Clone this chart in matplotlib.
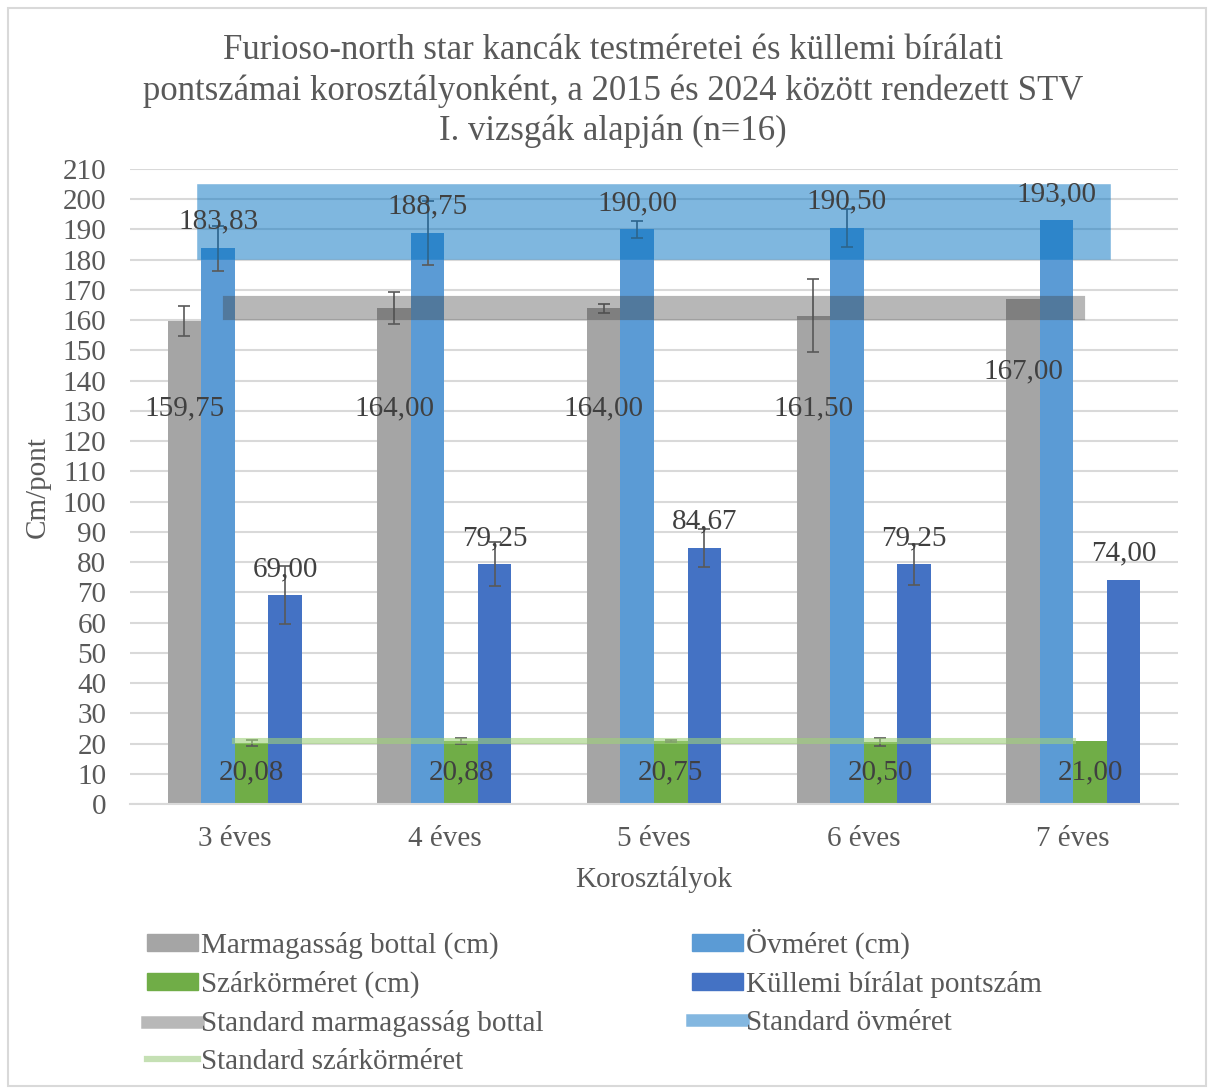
import numpy as np
import matplotlib
matplotlib.use("Agg")
import matplotlib.pyplot as plt
from matplotlib.patches import Patch, Rectangle
from matplotlib.lines import Line2D

plt.rcParams['font.family'] = ['Liberation Serif', 'DejaVu Serif']

# data
categories = ['3 éves', '4 éves', '5 éves', '6 éves', '7 éves']
marmagassag = [159.75, 164.00, 164.00, 161.50, 167.00]
ovmeret = [183.83, 188.75, 190.00, 190.50, 193.00]
szarkormeret = [20.08, 20.88, 20.75, 20.50, 21.00]
kullemi = [69.00, 79.25, 84.67, 79.25, 74.00]

marmagassag_err = [5.0, 5.4, 1.5, 12.0, np.nan]
ovmeret_err = [7.4, 10.6, 2.9, 6.3, np.nan]
szarkormeret_err = [1.0, 1.1, 0.3, 1.4, np.nan]
kullemi_err = [9.6, 7.3, 6.2, 6.7, np.nan]

# standard ranges (low, high)
std_marmagassag = (160, 168)
std_ovmeret = (180, 205)
std_szarkormeret = (20, 22)

series_names = ['Marmagasság bottal (cm)', 'Övméret (cm)',
                'Szárkörméret (cm)', 'Küllemi bírálat pontszám']
std_names = ['Standard marmagasság bottal', 'Standard övméret',
             'Standard szárkörméret']

c_gray = '#A5A5A5'
c_blue = '#5B9BD5'
c_green = '#70AD47'
c_dblue = '#4472C4'
txt = '#595959'
lab = '#404040'

W, H = 1214, 1088
fig = plt.figure(figsize=(W / 100, H / 100), dpi=100)
ax = fig.add_axes([130 / W, (H - 804) / H, 1048 / W, 635 / H])
ax.set_xlim(-0.5, 4.5)
ax.set_ylim(0, 210)

x = np.arange(len(categories))
bw = 0.16
series = [marmagassag, ovmeret, szarkormeret, kullemi]
errs = [marmagassag_err, ovmeret_err, szarkormeret_err, kullemi_err]
colors = [c_gray, c_blue, c_green, c_dblue]
offsets = [-1.5, -0.5, 0.5, 1.5]

for vals, err, col, off in zip(series, errs, colors, offsets):
    ax.bar(x + off * bw, vals, bw, color=col, zorder=2)
    ax.errorbar(x + off * bw, vals, yerr=err, fmt='none', ecolor='#595959',
                elinewidth=1.2, capsize=4, capthick=1.2, zorder=3)

# standard lines: thickness = range in data units
px_per_unit = ax.transData.transform((0, 1))[1] - ax.transData.transform((0, 0))[1]
for (lo, hi), col, a in [(std_ovmeret, '#0070C0', 0.5),
                         (std_marmagassag, '#434343', 0.38),
                         (std_szarkormeret, '#9FD17A', 0.6)]:
    lw = (hi - lo) * px_per_unit * 72 / 100
    ax.plot([x[0], x[-1]], [(lo + hi) / 2] * 2, color=col, alpha=a, lw=lw,
            solid_capstyle='projecting', zorder=4)

# data labels
fs = 21
gray_label_y = [131, 131, 131, 131, 143]
for i in x:
    ax.text(i - 1.5 * bw, gray_label_y[i], f'{marmagassag[i]:.2f}'.replace('.', ','),
            ha='center', va='center', fontsize=fs, color=lab, zorder=6)
    ax.annotate(f'{ovmeret[i]:.2f}'.replace('.', ','), (i - 0.5 * bw, ovmeret[i]),
                xytext=(0, 19), textcoords='offset points', ha='center', va='center',
                fontsize=fs, color=lab, zorder=6)
    ax.text(i + 0.5 * bw, 10.5, f'{szarkormeret[i]:.2f}'.replace('.', ','),
            ha='center', va='center', fontsize=fs, color=lab, zorder=6)
    ax.annotate(f'{kullemi[i]:.2f}'.replace('.', ','), (i + 1.5 * bw, kullemi[i]),
                xytext=(0, 19), textcoords='offset points', ha='center', va='center',
                fontsize=fs, color=lab, zorder=6)

ax.set_yticks(range(0, 211, 10))
ax.set_xticks(x)
ax.set_xticklabels(categories)
ax.tick_params(axis='both', length=0, labelsize=fs, colors=txt)
ax.tick_params(axis='x', pad=16)
ax.tick_params(axis='y', pad=17)
ax.grid(axis='y', color='#D9D9D9', lw=1.5, zorder=0)
ax.set_axisbelow(True)
for s in ['top', 'right', 'left']:
    ax.spines[s].set_visible(False)
ax.spines['bottom'].set_color('#D9D9D9')
ax.spines['bottom'].set_linewidth(1.5)

ax.set_xlabel('Korosztályok', fontsize=fs, color=txt, labelpad=10)
fig.text(38 / W, 1 - 487 / H, 'Cm/pont', rotation=90, ha='center', va='center',
         fontsize=fs, color=txt)

fig.text(613 / W, 1 - 91 / H,
         'Furioso-north star kancák testméretei és küllemi bírálati\n'
         'pontszámai korosztályonként, a 2015 és 2024 között rendezett STV\n'
         'I. vizsgák alapján (n=16)',
         ha='center', va='center', fontsize=25, color=txt, linespacing=1.27)

handles = [Patch(color=c_gray), Patch(color=c_green),
           Line2D([], [], color='#B8B8B8', lw=9),
           Line2D([], [], color='#C5E0B4', lw=4.5),
           Patch(color=c_blue), Patch(color=c_dblue),
           Line2D([], [], color='#83B7E0', lw=9)]
labels = [series_names[0], series_names[2], std_names[0], std_names[2],
          series_names[1], series_names[3], std_names[1]]
fig.legend(handles, labels, loc='upper left', bbox_to_anchor=(147 / W, 1 - 929 / H),
           ncol=2, frameon=False, fontsize=fs, handlelength=1.75, handleheight=0.5,
           handletextpad=0.1, labelspacing=0.4, columnspacing=5.1,
           labelcolor=txt, borderpad=0, borderaxespad=0)

fig.add_artist(Rectangle((8 / W, 2 / H), 1198 / W, 1078 / H, transform=fig.transFigure,
                         fill=False, ec='#D9D9D9', lw=1.5))

fig.savefig('out.png', dpi=100)
